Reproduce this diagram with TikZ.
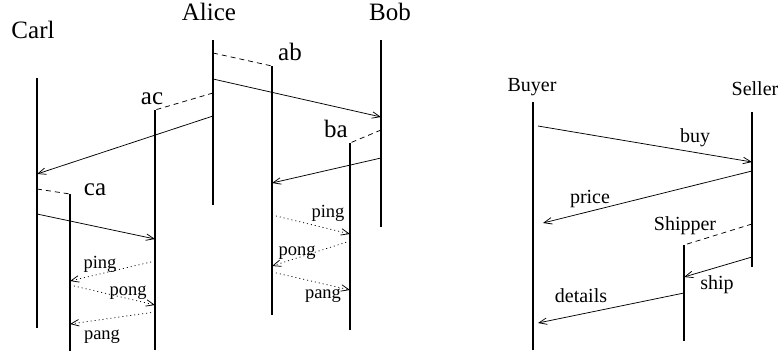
\documentclass[tikz,border=0pt]{standalone}
\usepackage{fontspec}
\setmainfont{Liberation Serif}
\usetikzlibrary{arrows.meta}
\tikzset{
  life/.style={line width=1.2pt},
  busy/.style={line width=2.5pt},
  msg/.style={line width=0.75pt, -{Straight Barb[length=8pt,width=6.5pt]}},
  ball/.style={msg, dash pattern=on 1pt off 3pt},
  fork/.style={line width=0.75pt, dash pattern=on 5pt off 4pt},
  big/.style={font=\fontsize{25}{27}\selectfont, anchor=base, inner sep=0pt},
  small/.style={font=\fontsize{18.5}{20}\selectfont, anchor=base, inner sep=0pt},
  mid/.style={font=\fontsize{20}{22}\selectfont, anchor=base, inner sep=0pt},
}
\begin{document}
\begin{tikzpicture}[x=1pt, y=-1pt]
  \useasboundingbox (0,0) rectangle (781,356);

  % lifelines: name/x/top/start of thick part/bottom
  \foreach \n/\x/\t/\m/\b in {carl/37/78/233/328, alice/213/40/92/205,
      bob/381/40/143/227, ab/272/66/117/315, ac/155/110/163/350,
      ba/350/143/195/330, ca/70/194/247/351,
      buyer/533/102/102/350, seller/752/112/112/267, shipper/684/245/245/341} {
    \coordinate (\n) at (\x,\t);
    \draw[life] (\x,\t) -- (\x,\b);
    \draw[busy] (\x,\m) -- (\x,\b);
  }

  % names
  \node[big] (lcarl)  at (33,38)  {Carl};
  \node[big] (lalice) at (209,20) {Alice};
  \node[big] (lbob)   at (390,20) {Bob};
  \node[big] (lab)    at (290,60) {ab};
  \node[big] (lac)    at (152,104) {ac};
  \node[big] (lba)    at (336,137) {ba};
  \node[big] (lca)    at (95,195) {ca};

  % spawning and messages
  \draw[fork] (alice |- 0,53) -- (ab);
  \draw[msg]  (alice |- 0,79) -- (bob |- 0,117);
  \draw[fork] (alice |- 0,93) -- (ac);
  \draw[msg]  (alice |- 0,116) -- (carl |- 0,174);
  \draw[fork] (bob |- 0,130) -- (ba);
  \draw[msg]  (bob |- 0,158) -- (ab |- 0,183);
  \draw[fork] (carl |- 0,189) -- (ca);
  \draw[msg]  (carl |- 0,214) -- (ac |- 0,239);

  % ping pong pang
  \draw[ball] (ac |- 0,261) -- (ca |- 0,281);
  \draw[ball] (ca |- 0,285) -- (ac |- 0,305);
  \draw[ball] (ac |- 0,312) -- (ca |- 0,324);
  \node[small] (ping1) at (100,268) {ping};
  \node[small] (pong1) at (128,295) {pong};
  \node[small] (pang1) at (102,339) {pang};

  \draw[ball] (ab |- 0,215) -- (ba |- 0,234);
  \draw[ball] (ba |- 0,241) -- (ab |- 0,266);
  \draw[ball] (ab |- 0,272) -- (ba |- 0,290);
  \node[small] (ping2) at (328,217) {ping};
  \node[small] (pong2) at (297,255) {pong};
  \node[small] (pang2) at (323,298) {pang};

  % buyer, seller, shipper
  \coordinate (buyfrom) at (538,126);
  \coordinate (priceto) at (543,223);
  \coordinate (detailsto) at (538,323);
  \node[mid] (lbuyer)   at (532,91)  {Buyer};
  \node[mid] (lseller)  at (755,95)  {Seller};
  \node[mid] (lshipper) at (685,230) {Shipper};
  \draw[msg]  (buyfrom) -- (seller |- 0,162);
  \draw[msg]  (seller |- 0,171) -- (priceto);
  \draw[fork] (seller |- 0,224) -- (shipper);
  \draw[msg]  (seller |- 0,257) -- (shipper |- 0,277);
  \draw[msg]  (shipper |- 0,293) -- (detailsto);
  \node[mid] (lbuy)     at (695,142) {buy};
  \node[mid] (lprice)   at (590,203) {price};
  \node[mid] (lship)    at (717,289) {ship};
  \node[mid] (ldetails) at (581,302) {details};
\end{tikzpicture}
\end{document}
